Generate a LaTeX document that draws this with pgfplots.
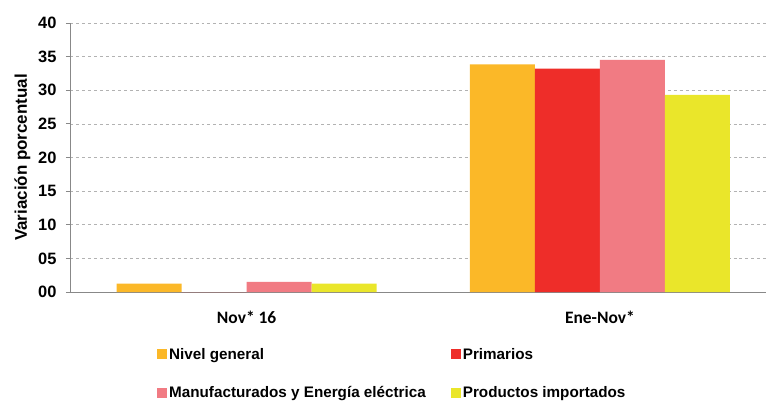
\documentclass[border=0pt]{standalone}
\usepackage{pgfplots}
\pgfplotsset{compat=1.18}
\usepackage{fontspec}
\setmainfont{Liberation Sans}
\newfontfamily\calib{Carlito}
\definecolor{cOrange}{HTML}{FBB828}
\definecolor{cRed}{HTML}{EE2D29}
\definecolor{cPink}{HTML}{F17B83}
\definecolor{cYellow}{HTML}{EAE62A}
\definecolor{axgray}{HTML}{888888}
\begin{document}
\begin{tikzpicture}[x=1bp,y=1bp]
\begin{axis}[
  name=ax,
  scale only axis,
  width=696bp, height=269bp,
  ybar=0pt, bar width=65bp,
  xmin=-0.5, xmax=1.47,
  ymin=0, ymax=40,
  xtick={0,1},
  xticklabels={Nov* 16, Ene-Nov*},
  x tick label style={font=\calib\bfseries\fontsize{17.5}{19}\selectfont, yshift=-12bp},
  major x tick style={draw=none},
  extra x ticks={0.5},
  extra x tick labels={},
  extra x tick style={major tick length=5bp, tick align=outside, tick style={draw=axgray, line width=0.8pt}},
  ytick={0,5,...,40},
  yticklabels={00,05,10,15,20,25,30,35,40},
  y tick label style={font=\bfseries\fontsize{16.5}{18}\selectfont, xshift=-6bp},
  ytick align=outside, major tick length=4bp,
  y tick style={draw=axgray, line width=0.8pt},
  ymajorgrids,
  grid style={dashed, draw=gray!60, line width=0.6pt},
  axis x line*=bottom, axis y line*=left,
  axis line style={draw=axgray, line width=0.9pt, -},
  ylabel={Variación porcentual},
  ylabel style={font=\bfseries\fontsize{17}{19}\selectfont, yshift=1bp},
  legend columns=2,
  legend style={at={(0.125,-0.2)}, anchor=north west, draw=none, fill=none, inner sep=0pt,
    font=\bfseries\fontsize{15.3}{17}\selectfont,
    /tikz/every even column/.append style={column sep=23bp},
    row sep=22bp},
  legend image code/.code={\fill[#1] (0bp,-5bp) rectangle (10bp,5bp);},
  legend cell align=left,
]
\addplot[fill=cOrange, draw=none] coordinates {(0,1.25) (1,33.85)};
\addplot[fill=cRed, draw=none] coordinates {(0,0) (1,33.2)};
\addplot[fill=cPink, draw=none] coordinates {(0,1.5) (1,34.5)};
\addplot[fill=cYellow, draw=none] coordinates {(0,1.25) (1,29.3)};
\legend{Nivel general, Primarios, Manufacturados y Energía eléctrica, Productos importados}
\end{axis}
\pgfresetboundingbox
\path[use as bounding box] ([xshift=-70bp,yshift=-109bp]ax.south west) rectangle ([yshift=23bp]ax.north east);
\end{tikzpicture}
\end{document}
